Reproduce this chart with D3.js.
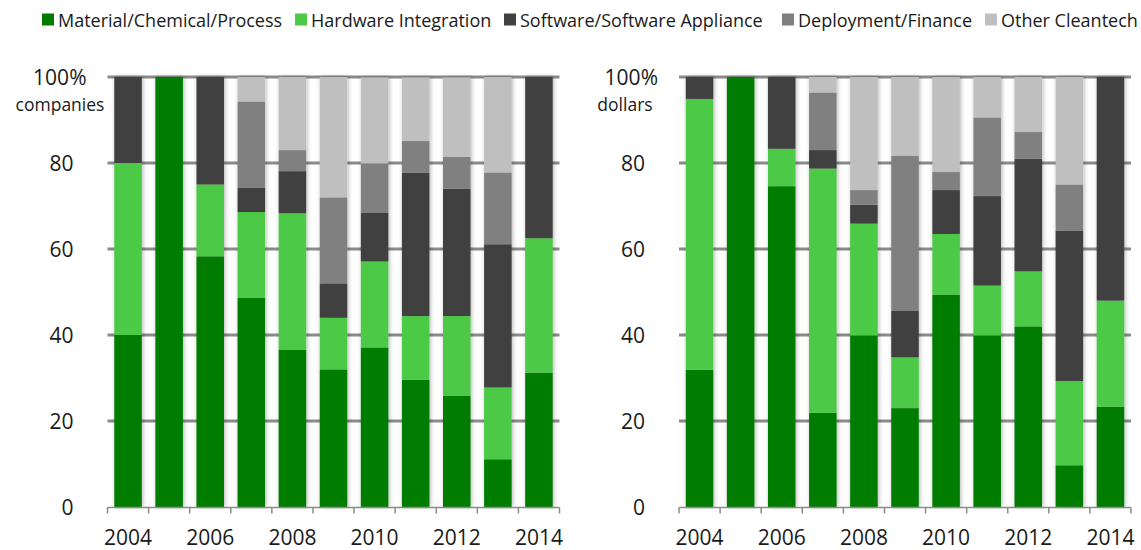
<!DOCTYPE html>
<html>
  <head>
    <meta charset="utf-8">
    <title>Cleantech deals by sector</title>
    <style>
      body {
        margin: 0;
        background: #fff;
      }
      svg text {
        font-family: "Open Sans", sans-serif;
        fill: #1a1a1a;
      }
      .legend text {
        font-size: 18px;
      }
      .tick-label {
        font-size: 21px;
      }
      .unit-label {
        font-size: 17.5px;
      }
    </style>
  </head>
  <body>
  <svg class="chart"></svg>
  <script src="https://cdn.jsdelivr.net/npm/d3@7"></script>
  <script>
    // categories
    var years = [2004, 2005, 2006, 2007, 2008, 2009, 2010, 2011, 2012, 2013, 2014];
    var seriesNames = ["Material/Chemical/Process", "Hardware Integration",
                       "Software/Software Appliance", "Deployment/Finance", "Other Cleantech"];
    var seriesColors = ["#007d00", "#4cc946", "#404040", "#808080", "#bfbfbf"];
    var yTicks = [0, 20, 40, 60, 80, 100];

    // share of companies (%)
    var compMaterial   = [40, 100, 58.3, 48.6, 36.6, 32, 37.1, 29.6, 25.9, 11.1, 31.25];
    var compHardware   = [40, 0, 16.7, 20, 31.7, 12, 20, 14.8, 18.5, 16.7, 31.25];
    var compSoftware   = [20, 0, 25, 5.7, 9.8, 8, 11.4, 33.3, 29.6, 33.3, 37.5];
    var compDeployment = [0, 0, 0, 20, 4.9, 20, 11.4, 7.4, 7.4, 16.7, 0];
    var compOther      = [0, 0, 0, 5.7, 17.0, 28, 20, 14.8, 18.5, 22.2, 0];

    // share of dollars (%)
    var dollMaterial   = [31.9, 100, 74.6, 21.9, 39.9, 23, 49.4, 39.9, 42, 9.7, 23.3];
    var dollHardware   = [63, 0, 8.7, 56.8, 26, 11.8, 14.1, 11.6, 12.8, 19.6, 24.7];
    var dollSoftware   = [5.1, 0, 16.7, 4.3, 4.4, 10.9, 10.2, 20.8, 26.2, 35, 52];
    var dollDeployment = [0, 0, 0, 13.4, 3.4, 36, 4.2, 18.3, 6.2, 10.7, 0];
    var dollOther      = [0, 0, 0, 3.6, 26.3, 18.3, 22.1, 9.4, 12.8, 25, 0];

    var width = 1141, height = 550;

    var svg = d3.select("svg")
      .attr("width", width)
      .attr("height", height);

    // soft shadow round the bars
    var filter = svg.append("defs").append("filter")
      .attr("id", "shadow")
      .attr("x", "-30%").attr("y", "-5%")
      .attr("width", "160%").attr("height", "110%");
    filter.append("feDropShadow")
      .attr("dx", 1).attr("dy", 0)
      .attr("stdDeviation", 2.2)
      .attr("flood-color", "#000")
      .attr("flood-opacity", 0.3);

    // legend (x of each label)
    var legendX = [58, 311, 520, 798, 1001];
    var legend = svg.append("g").attr("class", "legend");
    seriesNames.forEach(function(name, i) {
      var g = legend.append("g").attr("transform", "translate(" + legendX[i] + ",0)");
      g.append("rect")
        .attr("x", -16).attr("y", 13.5)
        .attr("width", 12).attr("height", 12)
        .attr("fill", seriesColors[i]);
      g.append("text").attr("x", 0).attr("y", 27).text(name);
    });

    function rowsOf(arrs) {
      return years.map(function(y, i) {
        var r = {year: y};
        seriesNames.forEach(function(s, j) { r[s] = arrs[j][i]; });
        return r;
      });
    }

    function drawPanel(opts) {
      var x = d3.scaleBand()
        .domain(years)
        .range([opts.x0, opts.x1])
        .paddingInner(0.33)
        .paddingOuter(0.165);

      var y = d3.scaleLinear()
        .domain([0, 100])
        .range([opts.y0, opts.y1]);

      var g = svg.append("g");

      // gridlines
      g.append("g").selectAll("line")
        .data(yTicks.filter(function(t) { return t > 0; }))
        .enter().append("line")
        .attr("x1", opts.x0).attr("x2", opts.x1)
        .attr("y1", function(d) { return y(d); })
        .attr("y2", function(d) { return y(d); })
        .attr("stroke", "#8a8a8a")
        .attr("stroke-width", 3.2);

      // y tick labels
      g.append("g").selectAll("text")
        .data(yTicks.filter(function(t) { return t < 100; }))
        .enter().append("text")
        .attr("class", "tick-label")
        .attr("x", opts.x0 - 34)
        .attr("y", function(d) { return y(d); })
        .attr("dy", "0.36em")
        .attr("text-anchor", "end")
        .text(function(d) { return d; });

      g.append("text")
        .attr("class", "tick-label")
        .attr("x", opts.x0 - 21)
        .attr("y", y(100))
        .attr("dy", "0.36em")
        .attr("text-anchor", "end")
        .text("100%");

      g.append("text")
        .attr("class", "unit-label")
        .attr("x", opts.unitX)
        .attr("y", y(100) + 34)
        .attr("text-anchor", "middle")
        .text(opts.unit);

      // stacked bars
      var stack = d3.stack().keys(seriesNames);
      var layers = stack(rowsOf(opts.data));

      g.append("g")
        .attr("filter", "url(#shadow)")
        .selectAll("g")
        .data(layers)
        .enter().append("g")
        .attr("fill", function(d, i) { return seriesColors[i]; })
        .selectAll("rect")
        .data(function(d) { return d; })
        .enter().append("rect")
        .attr("x", function(d) { return x(d.data.year); })
        .attr("width", x.bandwidth())
        .attr("y", function(d) { return y(d[1]); })
        .attr("height", function(d) { return Math.max(0, y(d[0]) - y(d[1])); });

      // x axis with ticks between the bars
      var xAxis = g.append("g")
        .attr("transform", "translate(0," + (y(0) + 0.5) + ")");
      xAxis.append("line")
        .attr("x1", opts.x0).attr("x2", opts.x1)
        .attr("stroke", "#8a8a8a").attr("stroke-width", 1.5);
      var bounds = d3.range(years.length + 1).map(function(i) { return opts.x0 + i * x.step(); });
      xAxis.selectAll(".tk")
        .data(bounds)
        .enter().append("line")
        .attr("class", "tk")
        .attr("x1", function(d) { return d; }).attr("x2", function(d) { return d; })
        .attr("y1", 0).attr("y2", 6)
        .attr("stroke", "#8a8a8a").attr("stroke-width", 1.5);
      xAxis.selectAll("text")
        .data(years.filter(function(yr) { return yr % 2 === 0; }))
        .enter().append("text")
        .attr("class", "tick-label")
        .attr("x", function(d) { return x(d) + x.bandwidth() / 2; })
        .attr("y", 37)
        .attr("text-anchor", "middle")
        .text(function(d) { return d; });
    }

    drawPanel({
      x0: 107.5, x1: 559.5, y0: 507, y1: 77, unit: "companies", unitX: 60,
      data: [compMaterial, compHardware, compSoftware, compDeployment, compOther]
    });

    drawPanel({
      x0: 679, x1: 1131, y0: 507, y1: 77, unit: "dollars", unitX: 625,
      data: [dollMaterial, dollHardware, dollSoftware, dollDeployment, dollOther]
    });
  </script>
  </body>
</html>
